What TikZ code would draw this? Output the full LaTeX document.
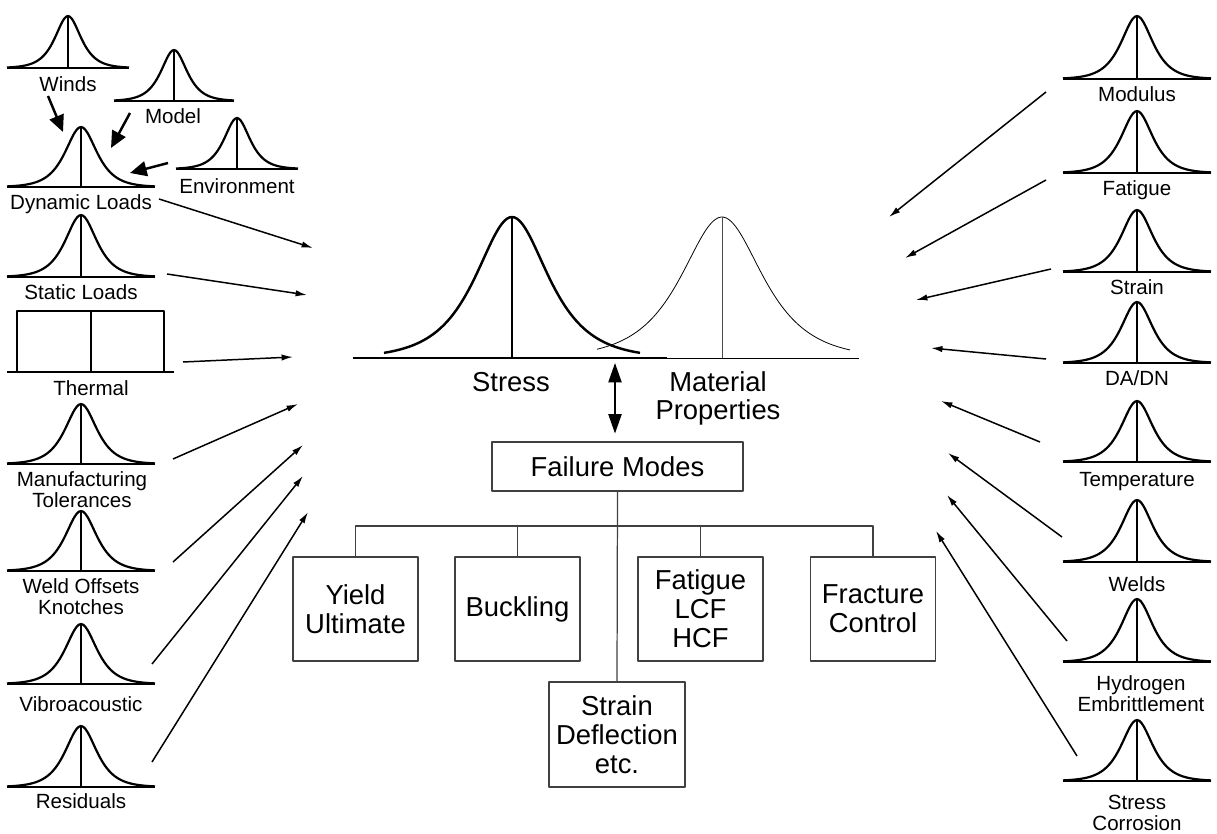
\documentclass[tikz,border=0pt]{standalone}
\usepackage{fontspec}
\setmainfont{Liberation Sans}
\usetikzlibrary{arrows.meta}

% small distribution: centre x, base y, half width, height, spread
\newcommand{\bell}[5]{%
  \draw[bell] ({#1-#3},#2) -- ({#1+#3},#2);
  \draw[bell] plot[domain=-#3:#3,samples=71,smooth] ({#1+\x},{#2-#4/cosh(\x/#5)});
  \draw[bell] (#1,#2) -- (#1,{#2-#4});
}

\begin{document}
\begin{tikzpicture}[x=0.02cm,y=-0.02cm,line join=round,
    bell/.style={line width=1.25pt},
    lbl/.style={anchor=north,inner sep=0pt,align=center,font=\fontsize{11.7}{12}\selectfont},
    big/.style={anchor=north,inner sep=0pt,align=center,font=\fontsize{15.6}{16.2}\selectfont},
    mode/.style={draw=black!75,line width=0.7pt,inner sep=0pt,align=center,
                 minimum width=2.5cm,minimum height=2.08cm,font=\fontsize{15.6}{16.4}\selectfont},
    feed/.style={-{Latex[length=6.5pt,width=3.6pt]},line width=0.85pt},
    push/.style={-{Triangle[length=9.5pt,width=8.5pt]},line width=1.4pt},
    tree/.style={draw=black!75,line width=0.7pt}]

  \useasboundingbox (0,0) rectangle (1217,834);

  % load side
  \bell{68}{68}{61}{52}{11.5}
  \bell{174}{101}{60}{51}{11.5}
  \bell{237}{169}{61}{51}{11.5}
  \bell{81}{187}{74}{60}{14}
  \bell{81}{277}{74}{62}{14}
  \draw[bell] (7,372) -- (174,372);
  \draw[bell] (17,372) -- (17,311) -- (164,311) -- (164,372);
  \draw[bell] (91,311) -- (91,372);
  \bell{81}{464}{74}{60}{14}
  \bell{81}{571}{74}{60}{14}
  \bell{81}{684}{74}{60}{14}
  \bell{81}{787}{74}{61}{14}

  \node[lbl] (winds)  at (68,76)   {Winds};
  \node[lbl] (model)  at (173,108) {Model};
  \node[lbl] (env)    at (237,178) {Environment};
  \node[lbl] (dyn)    at (81,194)  {Dynamic Loads};
  \node[lbl] (stat)   at (81,284)  {Static Loads};
  \node[lbl] (therm)  at (91,380)  {Thermal};
  \node[lbl] (manu)   at (82,471)  {Manufacturing\\Tolerances};
  \node[lbl] (weld)   at (81,578)  {Weld Offsets\\Knotches};
  \node[lbl] (vibro)  at (81,696)  {Vibroacoustic};
  \node[lbl] (resid)  at (81,793)  {Residuals};

  % material side
  \bell{1137}{79}{74}{63}{14}
  \bell{1137}{173}{74}{62}{14}
  \bell{1137}{272}{74}{62}{14}
  \bell{1137}{363}{74}{61}{14}
  \bell{1137}{462}{74}{61}{14}
  \bell{1137}{562}{74}{62}{14}
  \bell{1137}{662}{74}{63}{14}
  \bell{1137}{781}{74}{61}{14}

  \node[lbl] (modulus) at (1137,86)  {Modulus};
  \node[lbl] (fatigue) at (1137,180) {Fatigue};
  \node[lbl] (strain)  at (1137,279) {Strain};
  \node[lbl] (dadn)    at (1137,370) {DA/DN};
  \node[lbl] (temp)    at (1137,472) {Temperature};
  \node[lbl] (welds)   at (1137,576) {Welds};
  \node[lbl] (hydro)   at (1141,675) {Hydrogen\\Embrittlement};
  \node[lbl] (corr)    at (1137,795) {Stress\\Corrosion};

  % stress against strength
  \draw[line width=1.4pt] (353,358) -- (667,358);
  \draw[line width=1.4pt] plot[domain=-128:128,samples=101,smooth] ({512+\x},{358-141/cosh(\x/32)});
  \draw[line width=1.2pt] (512,358) -- (512,217);
  \draw[line width=0.45pt] (667,358) -- (859,358);
  \draw[line width=0.45pt] plot[domain=-125:128,samples=101,smooth] ({722+\x},{358-141/cosh(\x/36)});
  \draw[line width=0.45pt,black!70] (722,358) -- (722,217);

  \node[big] (stress) at (511,372) {Stress};
  \node[big] (matl)   at (718,371) {Material\\Properties};

  % failure modes
  \node[draw=black!75,line width=0.7pt,minimum width=5.02cm,minimum height=0.98cm,
        inner sep=0pt,font=\fontsize{15.6}{16.4}\selectfont] (fm) at (617.5,466.5) {Failure Modes};
  \node[mode] (yield)    at (355.5,609) {Yield\\Ultimate};
  \node[mode] (buckling) at (517.5,609) {Buckling};
  \node[mode] (fatigueb) at (700.5,609) {Fatigue\\LCF\\HCF};
  \node[mode] (fracture) at (873,609)   {Fracture\\Control};
  \node[mode,minimum width=2.72cm,minimum height=2.1cm] (strainb) at (617,734.5) {Strain\\Deflection\\etc.};

  \coordinate (bus) at (617,526);
  \draw[tree] (fm.south) -- (strainb.north);
  \draw[tree] (yield.north) -- (yield.north |- bus) -- (fracture.north |- bus) -- (fracture.north);
  \draw[tree] (buckling.north) -- (buckling.north |- bus);
  \draw[tree] (fatigueb.north) -- (fatigueb.north |- bus);

  \coordinate (overlap) at (615,363);
  \draw[{Triangle[length=11pt,width=7.5pt]}-{Triangle[length=11pt,width=7.5pt]},line width=0.85pt,
        shorten >=4.5pt] (overlap) -- (overlap |- fm.north);

  % arrow ends
  \coordinate (windsS) at (48,96);   \coordinate (windsE) at (63,132);
  \coordinate (modelS) at (130,113); \coordinate (modelE) at (111,148);
  \coordinate (envS)   at (168,163); \coordinate (envE)   at (130,173);

  \coordinate (dynS)   at (159,199); \coordinate (dynE)   at (313,248);
  \coordinate (statS)  at (167,274); \coordinate (statE)  at (307,295);
  \coordinate (thermS) at (183,362); \coordinate (thermE) at (293,357);
  \coordinate (manuS)  at (173,459); \coordinate (manuE)  at (298,404);
  \coordinate (weldS)  at (173,562); \coordinate (weldE)  at (303,445);
  \coordinate (vibroS) at (152,664); \coordinate (vibroE) at (303,476);
  \coordinate (residS) at (152,762); \coordinate (residE) at (308,512);

  \coordinate (modS)   at (1046,92);  \coordinate (modE)   at (889,217);
  \coordinate (fatS)   at (1046,180); \coordinate (fatE)   at (905,258);
  \coordinate (strS)   at (1051,269); \coordinate (strE)   at (916,300);
  \coordinate (dadnS)  at (1046,359); \coordinate (dadnE)  at (931,348);
  \coordinate (tempS)  at (1040,442); \coordinate (tempE)  at (941,401);
  \coordinate (weldsS) at (1062,537); \coordinate (weldsE) at (948,453);
  \coordinate (hydroS) at (1067,641); \coordinate (hydroE) at (947,495);
  \coordinate (corrS)  at (1077,756); \coordinate (corrE)  at (936,531);

  \path[push]
  (windsS) edge (windsE)
  (modelS) edge (modelE)
  (envS)   edge (envE);

  \path[feed]
  (dynS)   edge (dynE)
  (statS)  edge (statE)
  (thermS) edge (thermE)
  (manuS)  edge (manuE)
  (weldS)  edge (weldE)
  (vibroS) edge (vibroE)
  (residS) edge (residE)
  (modS)   edge (modE)
  (fatS)   edge (fatE)
  (strS)   edge (strE)
  (dadnS)  edge (dadnE)
  (tempS)  edge (tempE)
  (weldsS) edge (weldsE)
  (hydroS) edge (hydroE)
  (corrS)  edge (corrE);
\end{tikzpicture}
\end{document}
